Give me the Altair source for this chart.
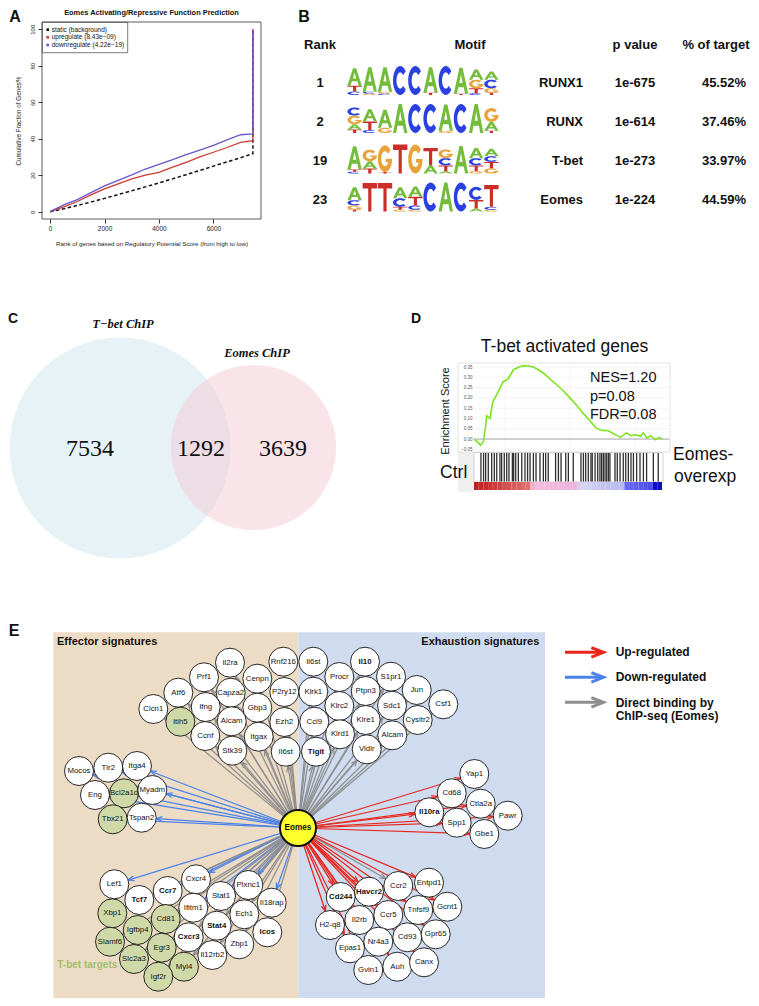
import math
import altair as alt
import pandas as pd

# ============================== DATA ==============================
# --- A: cumulative fraction of genes (%) vs. rank (regulatory potential score)
a_rank   = [0, 500, 1000, 1500, 2000, 2500, 3000, 3500, 4000, 4500, 5000, 5500, 6000, 6500, 7000, 7450, 7450]
a_static = [0, 1.6, 3.4, 5.3, 7.3, 9.4, 11.5, 13.6, 15.8, 18.0, 20.3, 22.6, 25.0, 27.3, 29.6, 31.8, 100]
a_up     = [0, 2.6, 5.6, 9.2, 12.5, 15.2, 18.0, 20.0, 21.6, 24.4, 27.0, 30.0, 32.6, 35.2, 38.0, 39.0, 100]
a_down   = [0, 3.7, 6.6, 10.5, 14.2, 17.2, 20.2, 23.4, 25.9, 28.5, 31.3, 33.8, 36.4, 39.4, 42.2, 42.6, 100]
a_series = ["static (background)", "upregulate (8.43e\u221209)", "downregulate (4.22e\u221219)"]
a_xticks = [0, 2000, 4000, 6000]
a_yticks = [0, 20, 40, 60, 80, 100]
a_title  = "Eomes Activating/Repressive Function Prediction"
a_xtitle = "Rank of genes based on Regulatory Potential Score (from high to low)"
a_ytitle = "Cumulative Fraction of Genes%"

# --- B: motif table
b_header = ["Rank", "Motif", "p value", "% of target"]
b_rank   = ["1", "2", "19", "23"]
b_name   = ["RUNX1", "RUNX", "T-bet", "Eomes"]
b_p      = ["1e-675", "1e-614", "1e-273", "1e-224"]
b_pct    = ["45.52%", "37.46%", "33.97%", "44.59%"]
# sequence logos: per position, letters top->bottom with relative heights
b_motifs = [
    [[("A", .60), ("T", .20), ("C", .12)], [("A", .85), ("C", .06), ("G", .05)], [("A", .85), ("G", .06), ("C", .05)],
     [("C", 1.0)], [("C", 1.0)], [("A", .88), ("T", .08)], [("C", 1.0)], [("A", .90), ("T", .04)],
     [("A", .35), ("G", .30), ("T", .17), ("C", .06)], [("A", .28), ("C", .30), ("G", .15), ("T", .08)]],
    [[("C", .28), ("G", .30), ("A", .18), ("T", .12)], [("A", .42), ("T", .30), ("C", .10)], [("A", .62), ("G", .18)],
     [("A", 1.0)], [("C", 1.0)], [("C", 1.0)], [("A", .90), ("G", .08)], [("C", 1.0)], [("A", 1.0)],
     [("G", .48), ("A", .30), ("T", .08)]],
    [[("A", .80), ("T", .08), ("C", .06)], [("G", .40), ("A", .25), ("T", .17)], [("G", .92), ("T", .05)],
     [("T", 1.0)], [("G", 1.0)], [("T", .60), ("A", .28)], [("G", .30), ("C", .25), ("T", .20), ("A", .08)],
     [("A", .95)], [("A", .35), ("C", .25), ("T", .20), ("G", .08)], [("A", .25), ("C", .20), ("T", .22), ("G", .18)]],
    [[("A", .45), ("C", .18), ("G", .15), ("T", .06)], [("T", .98)], [("T", .98)],
     [("A", .38), ("C", .30), ("T", .10), ("G", .06)], [("A", .35), ("T", .30), ("C", .15), ("G", .06)],
     [("C", 1.0)], [("A", 1.0)], [("C", 1.0)], [("C", .45), ("T", .30), ("A", .10)], [("T", .75), ("C", .10), ("G", .06)]],
]
b_letters = ["A", "C", "G", "T"]

# --- C: Venn counts
c_only_tbet, c_both, c_only_eomes = 7534, 1292, 3639
c_names = ["T\u2212bet ChIP", "Eomes ChIP"]

# --- D: GSEA running enrichment score
d_f  = [0, 0.02, 0.035, 0.05, 0.06, 0.067, 0.085, 0.10, 0.12, 0.14, 0.156, 0.18, 0.21, 0.24, 0.263, 0.29,
        0.316, 0.34, 0.37, 0.40, 0.44, 0.48, 0.51, 0.545, 0.58, 0.615, 0.65, 0.68, 0.715, 0.73, 0.76, 0.78,
        0.81, 0.835, 0.86, 0.885, 0.90, 0.92, 0.94, 0.965, 0.985, 1.0]
d_es = [0, -0.015, -0.03, -0.012, 0.05, 0.113, 0.10, 0.18, 0.215, 0.25, 0.28, 0.29, 0.337, 0.35, 0.357, 0.355,
        0.35, 0.338, 0.32, 0.295, 0.264, 0.23, 0.20, 0.165, 0.126, 0.09, 0.053, 0.042, 0.04, 0.032, 0.018, 0.008,
        0.03, 0.016, 0.021, 0.013, 0.03, 0.005, 0.016, -0.004, 0.008, 0.0]
d_hits = [.037, .051, .062, .076, .094, .108, .121, .138, .147, .161, .174, .186, .204, .211, .222, .236, .254,
          .271, .285, .298, .316, .330, .351, .369, .381, .395, .434, .449, .463, .488, .502, .528, .569, .582,
          .594, .608, .622, .629, .644, .658, .670, .679, .688, .697, .706, .715, .723, .750, .762, .777, .794,
          .807, .821, .835, .848, .865, .883, .901, .918, .954, .980]
d_yticks = [-0.05, 0.0, 0.05, 0.10, 0.15, 0.20, 0.25, 0.30, 0.35]
d_title = "T-bet activated genes"
d_stats = ["NES=1.20", "p=0.08", "FDR=0.08"]

# --- E: Eomes regulatory network
e_top_eff = ["Il2ra", "Rnf216", "Prf1", "Cenpn", "Atf6", "Capza2", "P2ry12", "Clcn1", "Ifng", "Gbp3", "Itih5",
             "Alcam", "Ezh2", "Ccnf", "Itgax", "Stk39", "Il6st"]
e_top_exh = ["Il6st", "Il10", "Procr", "S1pr1", "Klrk1", "Ptpn3", "Jun", "Klrc2", "Sdc1", "Csf1", "Ccl9", "Klre1",
             "Cysltr2", "Klrd1", "Alcam", "Tigit", "Vldlr"]
e_left = ["Mocos", "Tlr2", "Itga4", "Eng", "Bcl2a1d", "Myadm", "Tbx21", "Tspan2"]
e_botl = ["Lef1", "Cxcr4", "Plxnc1", "Tcf7", "Ccr7", "Stat1", "Il18rap", "Xbp1", "Ifitm1", "Ech1", "Cd81",
          "Igfbp4", "Stat4", "Icos", "Slamf6", "Cxcr3", "Egr3", "Zbp1", "Slc2a3", "Il12rb2", "Myl4", "Igf2r"]
e_right = ["Yap1", "Cd68", "Ctla2a", "Il10ra", "Pawr", "Spp1", "Gbe1"]
e_botr = ["Cd244", "Havcr2", "Ccr2", "Entpd1", "H2-q8", "Il2rb", "Ccr5", "Tnfsf9", "Gcnt1", "Epas1", "Nr4a3",
          "Cd93", "Gpr65", "Gvin1", "Auh", "Canx"]
e_tbet = ["Itih5", "Bcl2a1d", "Tbx21", "Xbp1", "Igfbp4", "Cd81", "Slamf6", "Egr3", "Slc2a3", "Myl4", "Igf2r"]
e_bold = ["Il10", "Tigit", "Il10ra", "Cd244", "Havcr2", "Tcf7", "Ccr7", "Cxcr3", "Stat4", "Icos"]
e_cluster_kind = {"top_eff": "bind", "top_exh": "bind", "left": "down", "botl": "bind", "right": "up", "botr": "up"}
e_kind_override = {"botl": {"Lef1": "down", "Ccr7": "down", "Cxcr4": "down", "Stat1": "down", "Plxnc1": "down",
                            "Il18rap": "down", "Ifitm1": "down"},
                   "botr": {"Ccr2": "bind"}}
e_kinds = ["up", "down", "bind"]
e_kind_labels = ["Up-regulated", "Down-regulated", "Direct binding by", "ChIP-seq (Eomes)"]
e_sections = ["Effector signatures", "Exhaustion signatures", "T-bet targets"]

# ============================ LAYOUT ============================
W, H = 735, 982
OX, OY = 16, 16          # page position of the plot origin
SANS, SERIF = "Liberation Sans", "Liberation Serif"

# node layout (page px), same order as gene lists above
XY = {
    "top_eff": [(230, 662.7), (283.3, 661.7), (204, 677.3), (257.3, 678.7), (178.3, 692.7), (230.7, 692.7),
                (284.3, 692), (153.3, 709), (205.7, 707), (257.3, 707.7), (180.3, 721.7), (231.7, 721.3),
                (284.3, 722), (205.3, 736), (258.7, 736.7), (232.3, 750.7), (285.7, 751.7)],
    "top_exh": [(313.3, 661.7), (365, 661.7), (339.3, 677), (391, 676.7), (313.3, 691.7), (365.7, 691),
                (416.7, 690), (339.3, 706), (392, 705.7), (443.3, 704.3), (314.3, 721.7), (365.7, 720),
                (417.7, 720), (340, 734.3), (392.3, 735.3), (316, 751.7), (366.7, 749.3)],
    "left": [(79, 771), (108.3, 767.7), (137, 766), (95, 795), (124, 793.3), (152.3, 790), (112.7, 819.3),
             (141.7, 817.7)],
    "botl": [(114.3, 884.3), (196, 879.3), (248.3, 885), (139.3, 900), (167.7, 891), (221, 896), (271.7, 902.7),
             (112.3, 913.3), (193.3, 907.7), (244.3, 914.3), (165.7, 919), (137.7, 930), (216.7, 925.7),
             (267.3, 932.3), (110, 941.7), (188.7, 937.3), (161.7, 947.7), (239.3, 944.3), (134, 959),
             (212.3, 955), (184, 966.7), (158.3, 976.7)],
    "right": [(474.3, 774), (451.7, 793.3), (480.7, 803.7), (429.3, 812.3), (507.7, 815.7), (456.7, 822.7),
              (484.3, 834)],
    "botr": [(340.7, 897), (369, 891.7), (398.3, 886), (429, 882.7), (330, 925), (359.3, 920), (388.3, 915),
             (418.3, 910), (447.3, 906.7), (350, 948.3), (378.3, 941.7), (407.3, 937.3), (435.7, 934.3),
             (368.3, 970), (397.3, 966.7), (424, 962.3)],
}
EOMES = (298, 828)
NODE_R, EOMES_R = 14.5, 18
E_RED, E_BLUE, E_GRAY = "#e8261c", "#4a82ea", "#8e8e8e"


def psx():
    return alt.Scale(domain=[OX, OX + W], range=[0, W], nice=False, zero=False)


def psy():
    return alt.Scale(domain=[OY, OY + H], range=[0, H], nice=False, zero=False)


def PX(f):
    return alt.X(f"{f}:Q", scale=psx(), axis=None)


def PY(f):
    return alt.Y(f"{f}:Q", scale=psy(), axis=None)


def txt(rows, size, weight="normal", align="center", baseline="middle", color="#111", font=SANS,
        angle=0, style="normal"):
    df = pd.DataFrame(rows, columns=["x", "y", "t"])
    mk = dict(fontSize=size, fontWeight=weight, align=align, baseline=baseline, color=color, font=font,
              fontStyle=style)
    if angle:
        mk["angle"] = angle
    return alt.Chart(df).mark_text(**mk).encode(x=PX("x"), y=PY("y"), text="t:N")


def prect(rows, **mk):
    df = pd.DataFrame(rows, columns=["x0", "x1", "y0", "y1"])
    return alt.Chart(df).mark_rect(**mk).encode(x=PX("x0"), x2="x1:Q", y=PY("y0"), y2="y1:Q")


layers = []

# ============================ PANEL A ============================
A_BOX = (42, 261, 219, 22)      # left, right, bottom, top (page px)


def expand(lo, hi):
    s = (hi - lo) * 0.04
    return [lo - s, hi + s]


a_xdom = expand(min(a_rank), max(a_rank))
a_ydom = expand(0, 100)


def AX():
    return alt.Scale(domain=a_xdom, range=[A_BOX[0] - OX, A_BOX[1] - OX], nice=False, zero=False)


def AY():
    return alt.Scale(domain=a_ydom, range=[A_BOX[2] - OY, A_BOX[3] - OY], nice=False, zero=False)


a_colors = ["#111111", "#cc3a36", "#6a55c8"]
frame = pd.DataFrame([{"x0": a_xdom[0], "x1": a_xdom[1], "y0": a_ydom[0], "y1": a_ydom[1]}])
layers.append(alt.Chart(frame).mark_rect(fillOpacity=0, stroke="#333", strokeWidth=0.8).encode(
    x=alt.X("x0:Q", scale=AX(), axis=None), x2="x1:Q", y=alt.Y("y0:Q", scale=AY(), axis=None), y2="y1:Q"))

xaxis = alt.Axis(orient="bottom", offset=(A_BOX[2] - OY) - H, values=a_xticks, format="d", domain=False,
                 grid=False, tickSize=4, tickColor="#333", labelFontSize=6.5, labelFont=SANS, labelPadding=2,
                 labelColor="#222", title=a_xtitle, titleFont=SANS, titleFontSize=6.2, titleFontWeight="normal",
                 titleColor="#222", titlePadding=9)
yaxis = alt.Axis(orient="left", offset=-(A_BOX[0] - OX), values=a_yticks, format="d", domain=False, grid=False,
                 tickSize=4, tickColor="#333", labelAngle=270, labelAlign="center", labelBaseline="bottom",
                 labelFontSize=6, labelFont=SANS, labelPadding=3, labelColor="#222", title=a_ytitle,
                 titleFont=SANS, titleFontSize=6.3, titleFontWeight="normal", titleColor="#222", titlePadding=8)
for k, vals in enumerate([a_static, a_up, a_down]):
    df = pd.DataFrame({"rank": a_rank, "pct": vals, "i": list(range(len(a_rank)))})
    mk = dict(color=a_colors[k], strokeWidth=1.5 if k == 0 else 1.3)
    if k == 0:
        mk["strokeDash"] = [3.5, 2.5]
    layers.append(alt.Chart(df).mark_line(**mk).encode(
        x=alt.X("rank:Q", scale=AX(), axis=xaxis if k == 0 else None),
        y=alt.Y("pct:Q", scale=AY(), axis=yaxis if k == 0 else None),
        order="i:Q"))

# legend of A
layers.append(prect([(42.3, 127.7, 22.3, 52.7)], fillOpacity=0, stroke="#444", strokeWidth=0.7))
leg_y = [29.7, 37.3, 45]
df_leg = pd.DataFrame({"x": [47.7] * 3, "y": leg_y, "s": a_series})
layers.append(alt.Chart(df_leg).mark_square(size=7, opacity=1).encode(
    x=PX("x"), y=PY("y"), color=alt.Color("s:N", scale=alt.Scale(domain=a_series, range=a_colors), legend=None)))
layers.append(txt([(51.7, y, s) for y, s in zip(leg_y, a_series)], 6.5, align="left"))
layers.append(txt([(151.5, 13, a_title)], 7.4, weight="bold"))
layers.append(txt([(15, 17, "A")], 16, weight="bold"))

# ============================ PANEL B ============================
layers.append(txt([(304, 17, "B")], 16, weight="bold"))
layers.append(txt([(320, 44.5, b_header[0]), (470, 44.5, b_header[1]), (635, 44.5, b_header[2]),
                   (716, 44.5, b_header[3])], 13, weight="bold"))
row_y = [83, 122, 161, 200]
layers.append(txt([(320, y, r) for y, r in zip(row_y, b_rank)], 13, weight="bold"))
layers.append(txt([(583, y, r) for y, r in zip(row_y, b_name)], 13, weight="bold", align="right"))
layers.append(txt([(635, y, r) for y, r in zip(row_y, b_p)], 13, weight="bold"))
layers.append(txt([(746, y, r) for y, r in zip(row_y, b_pct)], 13, weight="bold", align="right"))


def arc(rx, ry, a0, a1, n):
    return [(rx * math.cos(math.radians(a0 + (a1 - a0) * t / n)),
             ry * math.sin(math.radians(a0 + (a1 - a0) * t / n))) for t in range(n + 1)]


GLYPH = {
    "T": [[(-1, -1), (1, -1), (1, -0.62), (0.22, -0.62), (0.22, 1), (-0.22, 1), (-0.22, -0.62), (-1, -0.62)]],
    "A": [[(-1, 1), (-0.22, -1), (0.22, -1), (1, 1), (0.56, 1), (0.38, 0.5), (-0.38, 0.5), (-0.56, 1)],
          [(-0.22, 0.16), (0.22, 0.16), (0, -0.5)]],
    "C": [arc(1, 1, -40, -320, 28) + arc(0.52, 0.56, -320, -40, 28)],
    "G": [arc(1, 1, -40, -360, 32) + [(0.1, 0), (0.1, 0.26), (0.46, 0.26)] + arc(0.52, 0.56, -332.3, -40, 28)],
}


def glyph_path(letter, sy):
    return " ".join("M" + " L".join(f"{x:.3f},{y * sy:.3f}" for x, y in poly) + " Z" for poly in GLYPH[letter])


LOGO_X0, LOGO_COLW, LOGO_H, LOGO_UNIT = 347, 15.2, 29, 7.2
logo_bottom = [95, 133, 173.5, 211.5]
logo_rows = []
for r, motif in enumerate(b_motifs):
    for j, stack in enumerate(motif):
        cum = 0.0
        for letter, frac in reversed(stack):
            h = frac * LOGO_H
            logo_rows.append({"x": LOGO_X0 + LOGO_COLW * (j + 0.5), "y": logo_bottom[r] - cum - h / 2,
                              "letter": letter, "path": glyph_path(letter, (h / 2) / LOGO_UNIT)})
            cum += h
layers.append(alt.Chart(pd.DataFrame(logo_rows)).mark_point(
    filled=True, size=(2 * LOGO_UNIT) ** 2, opacity=1, strokeWidth=0).encode(
    x=PX("x"), y=PY("y"), shape=alt.Shape("path:N", scale=None),
    color=alt.Color("letter:N", scale=alt.Scale(domain=b_letters,
                                                range=["#74bd3c", "#2a40e0", "#e8a43a", "#cc2f2a"]), legend=None)))

# ============================ PANEL C ============================
layers.append(txt([(13, 319, "C")], 14, weight="bold"))
c_tot_t = c_only_tbet + c_both
c_tot_e = c_only_eomes + c_both
C_DIAM_BIG = 221
size_scale = alt.Scale(domain=[0, c_tot_t], range=[0, C_DIAM_BIG ** 2], zero=True)
for (cx, cy), tot, col, op in [((120, 448), c_tot_t, "#e6f2f5", 1.0), ((253.5, 447.5), c_tot_e, "#f3c9d5", 0.5)]:
    df = pd.DataFrame([{"x": cx, "y": cy, "total": tot}])
    layers.append(alt.Chart(df).mark_circle(color=col, opacity=op).encode(
        x=PX("x"), y=PY("y"), size=alt.Size("total:Q", scale=size_scale, legend=None)))
layers.append(txt([(123, 324, c_names[0]), (257, 353, c_names[1])], 12.5, weight="bold", style="italic",
                  font=SERIF))
layers.append(txt([(90, 449, str(c_only_tbet)), (201, 449, str(c_both)), (283, 449, str(c_only_eomes))], 24,
                  font=SERIF))

# ============================ PANEL D ============================
layers.append(txt([(416, 318.5, "D")], 14, weight="bold"))
D_X = (474, 662)
D_Y = (452, 365)
d_xdom = [0, 1]
d_ydom = [-0.063, 0.36]


def DX():
    return alt.Scale(domain=d_xdom, range=[D_X[0] - OX, D_X[1] - OX], nice=False, zero=False)


def DY():
    return alt.Scale(domain=d_ydom, range=[D_Y[0] - OY, D_Y[1] - OY], nice=False, zero=False)


layers.append(prect([(458, 474, 452, 492)], color="#efefef"))
layers.append(prect([(458, 670, 363, 452)], fillOpacity=0, stroke="#dcdcdc", strokeWidth=0.8))
hg = pd.DataFrame({"v": d_yticks, "x0": 0, "x1": 1.04})
layers.append(alt.Chart(hg).mark_rule(color="#ececec", strokeWidth=0.6).encode(
    x=alt.X("x0:Q", scale=DX(), axis=None), x2="x1:Q", y=alt.Y("v:Q", scale=DY(), axis=None)))
vg = pd.DataFrame({"v": [0.165, 0.51, 0.857], "y0": d_ydom[0], "y1": d_ydom[1]})
layers.append(alt.Chart(vg).mark_rule(color="#ececec", strokeWidth=0.6).encode(
    x=alt.X("v:Q", scale=DX(), axis=None), y=alt.Y("y0:Q", scale=DY(), axis=None), y2="y1:Q"))
zl = pd.DataFrame({"v": [0.0], "x0": 0, "x1": 1.04})
layers.append(alt.Chart(zl).mark_rule(color="#a8a8a8", strokeWidth=1).encode(
    x=alt.X("x0:Q", scale=DX(), axis=None), x2="x1:Q", y=alt.Y("v:Q", scale=DY(), axis=None)))
d_axis = alt.Axis(orient="left", offset=-(D_X[0] - OX), values=d_yticks, format=".2f", domain=False, ticks=False,
                  grid=False, labelFontSize=4.5, labelFont=SANS, labelColor="#555", labelPadding=2, title=None)
layers.append(alt.Chart(pd.DataFrame({"f": d_f, "es": d_es})).mark_line(color="#7ee420", strokeWidth=1.6).encode(
    x=alt.X("f:Q", scale=DX(), axis=None), y=alt.Y("es:Q", scale=DY(), axis=d_axis)))
layers.append(prect([(474, 663, 452.5, 482)], fillOpacity=0, stroke="#c8c8c8", strokeWidth=0.8))
hits = pd.DataFrame({"h": d_hits, "y0": 453, "y1": 481.5})
layers.append(alt.Chart(hits).mark_rule(color="#1a1a1a", strokeWidth=1.3, opacity=0.9).encode(
    x=alt.X("h:Q", scale=DX(), axis=None), y=PY("y0"), y2="y1:Q"))
NSEG = 40
seg = pd.DataFrame({"s0": [i / NSEG for i in range(NSEG)], "s1": [(i + 1) / NSEG for i in range(NSEG)],
                    "v": [(i + 0.5) / NSEG for i in range(NSEG)], "y0": 482, "y1": 490})
bar_stops = [0, 0.30, 0.315, 0.55, 0.565, 0.79, 0.80, 0.955, 0.96, 1.0]
bar_cols = ["#c41a1a", "#e07474", "#f4bcdc", "#eab4dc", "#d6d6f4", "#b8b8ee", "#6a6af2", "#4a4ae8", "#0c0cc4",
            "#0c0cc4"]
layers.append(alt.Chart(seg).mark_rect().encode(
    x=alt.X("s0:Q", scale=DX(), axis=None), x2="s1:Q", y=PY("y0"), y2="y1:Q",
    color=alt.Color("v:Q", scale=alt.Scale(domain=bar_stops, range=bar_cols, interpolate="rgb"), legend=None)))
layers.append(txt([(564.5, 347, d_title)], 17.5))
layers.append(txt([(590, 378, d_stats[0]), (590, 396.5, d_stats[1]), (590, 414.5, d_stats[2])], 14.5,
                  align="left"))
layers.append(txt([(446, 411, "Enrichment Score")], 11, angle=270))
layers.append(txt([(453.7, 473, "Ctrl")], 17.5))
layers.append(txt([(673, 455, "Eomes-"), (674, 477, "overexp")], 17.5, align="left"))

# ============================ PANEL E ============================
layers.append(txt([(14, 630.5, "E")], 16, weight="bold"))
bg = pd.DataFrame([{"x0": 53.3, "x1": 298.3, "y0": 632.3, "y1": 1010, "k": "eff"},
                   {"x0": 298.3, "x1": 545, "y0": 632.3, "y1": 1010, "k": "exh"}])
layers.append(alt.Chart(bg).mark_rect().encode(
    x=PX("x0"), x2="x1:Q", y=PY("y0"), y2="y1:Q",
    color=alt.Color("k:N", scale=alt.Scale(domain=["eff", "exh"], range=["#eddcc5", "#cfdcef"]), legend=None)))

clusters = [("top_eff", e_top_eff), ("top_exh", e_top_exh), ("left", e_left), ("botl", e_botl),
            ("right", e_right), ("botr", e_botr)]
node_rows, edge_rows = [], []
for cl, genes in clusters:
    for g, (x, y) in zip(genes, XY[cl]):
        node_rows.append({"g": g, "x": x, "y": y, "fillk": "tbet" if g in e_tbet else "plain",
                          "bold": g in e_bold})
        kind = e_kind_override.get(cl, {}).get(g, e_cluster_kind[cl])
        edge_rows.append({"ex": EOMES[0], "ey": EOMES[1], "nx": x, "ny": y, "kind": kind})
nodes = pd.DataFrame(node_rows)
edges = pd.DataFrame(edge_rows)
kind_color = alt.Scale(domain=e_kinds, range=[E_RED, E_BLUE, E_GRAY])
CHEV = "M-0.55,1.4 L0,0 L0.55,1.4"

edge_base = alt.Chart(edges).transform_calculate(
    dx="datum.nx - datum.ex", dy="datum.ny - datum.ey").transform_calculate(
    d="sqrt(datum.dx*datum.dx + datum.dy*datum.dy)").transform_calculate(
    tx=f"datum.nx - datum.dx / datum.d * {NODE_R}", ty=f"datum.ny - datum.dy / datum.d * {NODE_R}",
    ang="(atan2(datum.dx, -datum.dy) * 180 / PI + 360) % 360")
layers.append(edge_base.mark_rule(strokeWidth=1.25).encode(
    x=PX("ex"), y=PY("ey"), x2="tx:Q", y2="ty:Q", color=alt.Color("kind:N", scale=kind_color, legend=None)))
layers.append(edge_base.mark_point(shape=CHEV, size=74, filled=False, strokeWidth=1.25, opacity=1).encode(
    x=PX("tx"), y=PY("ty"), angle=alt.Angle("ang:Q", scale=None),
    color=alt.Color("kind:N", scale=kind_color, legend=None)))

layers.append(alt.Chart(nodes).mark_circle(size=(2 * NODE_R) ** 2, stroke="#111", strokeWidth=0.9, opacity=1).encode(
    x=PX("x"), y=PY("y"),
    color=alt.Color("fillk:N", scale=alt.Scale(domain=["plain", "tbet"], range=["#ffffff", "#cfd9a8"]),
                    legend=None)))
layers.append(alt.Chart(nodes).transform_filter("!datum.bold").mark_text(
    fontSize=7.8, font=SANS, color="#111").encode(x=PX("x"), y=PY("y"), text="g:N"))
layers.append(alt.Chart(nodes).transform_filter("datum.bold").mark_text(
    fontSize=7.8, font=SANS, fontWeight="bold", color="#111").encode(x=PX("x"), y=PY("y"), text="g:N"))

eom = pd.DataFrame([{"x": EOMES[0], "y": EOMES[1], "t": "Eomes"}])
layers.append(alt.Chart(eom).mark_circle(size=(2 * EOMES_R) ** 2, color="#ffff2e", stroke="#111", strokeWidth=2,
                                         opacity=1).encode(x=PX("x"), y=PY("y")))
layers.append(txt([(EOMES[0], EOMES[1], "Eomes")], 8.2, weight="bold"))

layers.append(txt([(57, 642.3, e_sections[0])], 11, weight="bold", align="left"))
layers.append(txt([(539.3, 642.3, e_sections[1])], 11, weight="bold", align="right"))
layers.append(txt([(57.3, 965, e_sections[2])], 10, weight="bold", align="left", color="#a3bd6f"))

# arrow legend
leg = pd.DataFrame({"kind": e_kinds, "y": [652.3, 677.3, 702.3], "x0": 565, "x1": 601, "xt": 603.5})
layers.append(alt.Chart(leg).mark_rule(strokeWidth=3).encode(
    x=PX("x0"), x2="x1:Q", y=PY("y"), color=alt.Color("kind:N", scale=kind_color, legend=None)))
layers.append(alt.Chart(leg).mark_point(shape=CHEV, size=300, filled=False, strokeWidth=3, opacity=1,
                                        angle=90).encode(
    x=PX("xt"), y=PY("y"), color=alt.Color("kind:N", scale=kind_color, legend=None)))
layers.append(txt([(615.7, 652.3, e_kind_labels[0]), (615.7, 677.3, e_kind_labels[1]),
                   (615.7, 702.7, e_kind_labels[2]), (615.7, 716, e_kind_labels[3])], 12, weight="bold",
                  align="left"))

chart = alt.layer(*layers).resolve_scale(
    x="independent", y="independent", color="independent"
).properties(
    width=W, height=H, padding={"left": OX - 8, "top": OY - 8, "right": 0, "bottom": 0},
    autosize=alt.AutoSizeParams(type="none"),
).configure_view(stroke=None)

chart.save("out.html", embed_options={"renderer": "svg", "actions": False})
